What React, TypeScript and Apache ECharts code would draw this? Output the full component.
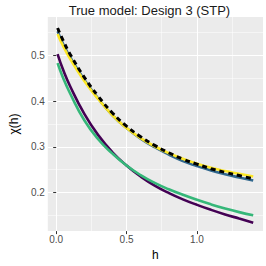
import React, { useEffect, useRef } from "react";
import * as echarts from "echarts";

const hValues = [0.01, 0.05, 0.1, 0.2, 0.3, 0.4, 0.5, 0.6, 0.7, 0.8, 0.9, 1.0, 1.1, 1.2, 1.3, 1.4];
const trueChi = [0.56, 0.532, 0.502, 0.452, 0.41, 0.374, 0.345, 0.322, 0.303, 0.287, 0.273, 0.262, 0.252, 0.244, 0.237, 0.23];
const purpleChi = [0.503, 0.468, 0.432, 0.372, 0.325, 0.288, 0.259, 0.235, 0.215, 0.199, 0.185, 0.173, 0.162, 0.152, 0.143, 0.134];
const blueChi = [0.553, 0.525, 0.496, 0.447, 0.405, 0.369, 0.341, 0.318, 0.299, 0.283, 0.269, 0.258, 0.248, 0.24, 0.233, 0.226];
const greenChi = [0.483, 0.45, 0.416, 0.358, 0.316, 0.285, 0.259, 0.238, 0.221, 0.207, 0.195, 0.184, 0.174, 0.165, 0.157, 0.15];
const yellowChi = [0.547, 0.52, 0.492, 0.444, 0.404, 0.369, 0.341, 0.319, 0.301, 0.286, 0.274, 0.263, 0.254, 0.247, 0.241, 0.235];

const titleText = "True model: Design 3 (STP)";
const xTicks = [0, 0.5, 1.0];
const xMinor = [0.25, 0.75, 1.25];
const yTicks = [0.2, 0.3, 0.4, 0.5];
const yMinor = [0.15, 0.25, 0.35, 0.45, 0.55];

const pairs = (ys: number[]) => hValues.map((h, i) => [h, ys[i]]);

export default function App() {
  const ref = useRef<HTMLDivElement>(null);
  useEffect(() => {
    if (!ref.current) return;
    const chart = echarts.init(ref.current, null, { renderer: "svg" });
    const font = "Liberation Sans";
    const lineSeries = (data: number[], color: string, extra: any = {}) => ({
      type: "line",
      data: pairs(data),
      smooth: 0.5,
      showSymbol: false,
      symbol: "none",
      silent: true,
      lineStyle: { color, width: 2.6, ...extra },
    });
    const gridLines = [
      ...xMinor.map((v) => ({ xAxis: v, lineStyle: { color: "#ffffff", width: 0.5, type: "solid" } })),
      ...yMinor.map((v) => ({ yAxis: v, lineStyle: { color: "#ffffff", width: 0.5, type: "solid" } })),
      ...xTicks.map((v) => ({ xAxis: v, lineStyle: { color: "#ffffff", width: 1.1, type: "solid" } })),
      ...yTicks.map((v) => ({ yAxis: v, lineStyle: { color: "#ffffff", width: 1.1, type: "solid" } })),
    ];
    chart.setOption({
      animation: false,
      graphic: [
        {
          type: "text",
          x: 149.5,
          y: 10,
          style: {
            text: titleText,
            fontFamily: font,
            fontSize: 13,
            fill: "#1a1a1a",
            align: "center",
            verticalAlign: "middle",
            textAlign: "center",
            textVerticalAlign: "middle",
          },
        },
      ],
      grid: { left: 36, top: 17, right: 3, bottom: 29, show: true, backgroundColor: "#EBEBEB", borderWidth: 0 },
      xAxis: {
        type: "value",
        min: -0.0595,
        max: 1.4695,
        name: "h",
        nameLocation: "middle",
        nameGap: 14,
        nameTextStyle: { fontFamily: font, fontSize: 12, color: "#000" },
        axisLine: { show: false },
        splitLine: { show: false },
        axisTick: { show: true, length: 3, customValues: xTicks, lineStyle: { color: "#333333", width: 1 } },
        axisLabel: {
          customValues: xTicks,
          margin: 3,
          fontFamily: font,
          fontSize: 10,
          color: "#4D4D4D",
          formatter: (v: number) => v.toFixed(1),
        },
      },
      yAxis: {
        type: "value",
        min: 0.1155,
        max: 0.584,
        name: "χ(h)",
        nameLocation: "middle",
        nameGap: 24,
        nameTextStyle: { fontFamily: font, fontSize: 12, color: "#000" },
        axisLine: { show: false },
        splitLine: { show: false },
        axisTick: { show: true, length: 3, customValues: yTicks, lineStyle: { color: "#333333", width: 1 } },
        axisLabel: {
          customValues: yTicks,
          margin: 3,
          fontFamily: font,
          fontSize: 10,
          color: "#4D4D4D",
          formatter: (v: number) => v.toFixed(1),
        },
      },
      series: [
        {
          type: "line",
          data: [],
          silent: true,
          markLine: { silent: true, symbol: "none", label: { show: false }, data: gridLines, z: 0 },
          z: 0,
        },
        lineSeries(purpleChi, "#440154"),
        lineSeries(greenChi, "#35B779"),
        lineSeries(blueChi, "#31688E"),
        lineSeries(yellowChi, "#FDE725"),
        lineSeries(trueChi, "#000000", { type: [5, 4], width: 3 }),
      ],
    });
    return () => chart.dispose();
  }, []);
  return <div ref={ref} style={{ width: 266, height: 266, position: "absolute", left: 0, top: 0 }} />;
}
